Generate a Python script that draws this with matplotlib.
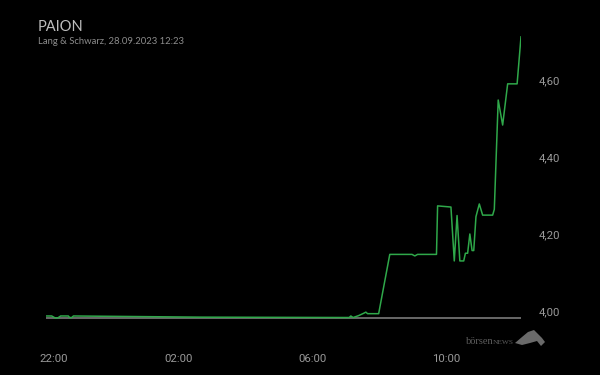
import matplotlib
matplotlib.use("Agg")
import matplotlib.pyplot as plt
import matplotlib.dates as mdates
import matplotlib.transforms as mtransforms
from matplotlib.patches import Polygon
import pandas as pd

# Kursdaten (Lang & Schwarz)
times = ["2023-09-27 22:02", "2023-09-27 22:11", "2023-09-27 22:17", "2023-09-27 22:22",
         "2023-09-27 22:27", "2023-09-27 22:41", "2023-09-27 22:43", "2023-09-27 22:47",
         "2023-09-27 22:50", "2023-09-28 02:38", "2023-09-28 07:06", "2023-09-28 07:09",
         "2023-09-28 07:13", "2023-09-28 07:17", "2023-09-28 07:23", "2023-09-28 07:32",
         "2023-09-28 07:36", "2023-09-28 07:39", "2023-09-28 07:59", "2023-09-28 08:19",
         "2023-09-28 08:59", "2023-09-28 09:04", "2023-09-28 09:09", "2023-09-28 09:43",
         "2023-09-28 09:45", "2023-09-28 10:09", "2023-09-28 10:15", "2023-09-28 10:20",
         "2023-09-28 10:25", "2023-09-28 10:32", "2023-09-28 10:35", "2023-09-28 10:39",
         "2023-09-28 10:43", "2023-09-28 10:47", "2023-09-28 10:50", "2023-09-28 10:54",
         "2023-09-28 11:00", "2023-09-28 11:06", "2023-09-28 11:24", "2023-09-28 11:27",
         "2023-09-28 11:34", "2023-09-28 11:42", "2023-09-28 11:51", "2023-09-28 12:08",
         "2023-09-28 12:15"]
prices = [3.987, 3.987, 3.982, 3.982,
          3.987, 3.987, 3.983, 3.983,
          3.987, 3.984, 3.983, 3.987,
          3.983, 3.985, 3.988, 3.994,
          3.997, 3.993, 3.993, 4.147,
          4.147, 4.143, 4.147, 4.147,
          4.273, 4.270, 4.130, 4.248,
          4.130, 4.130, 4.150, 4.150,
          4.200, 4.157, 4.157, 4.245,
          4.278, 4.249, 4.249, 4.264,
          4.548, 4.483, 4.590, 4.590,
          4.712]
prev_close = 3.982
y_ticks = [4.00, 4.20, 4.40, 4.60]

t = pd.to_datetime(times)
t0 = pd.Timestamp("2023-09-27 22:00")

fig = plt.figure(figsize=(6, 3.75), dpi=100, facecolor="black")
ax = fig.add_axes([45.6 / 600, 45 / 375, (521 - 45.6) / 600, 295 / 375])
ax.set_facecolor("black")

# Vortageslinie + Kursverlauf
ax.plot([t0, t[-1]], [prev_close, prev_close], color="#7a7a7a", lw=1.2, zorder=1)
ax.plot(t, prices, color="#2fa84a", lw=1.1, zorder=2)

ax.set_xlim(t0, t[-1])
ax.set_ylim(3.9506, 4.7169)

for s in ax.spines.values():
    s.set_visible(False)

ax.yaxis.tick_right()
ax.set_yticks(y_ticks)
ax.yaxis.set_major_formatter(plt.FuncFormatter(lambda v, p: f"{v:.2f}".replace(".", ",")))
ax.xaxis.set_major_locator(mdates.HourLocator(byhour=[22, 2, 6, 10]))
ax.xaxis.set_major_formatter(mdates.DateFormatter("%H:%M"))
ax.tick_params(axis="both", length=0, colors="#999999", labelsize=8.2)
ax.tick_params(axis="y", pad=13)
ax.tick_params(axis="x", pad=17)
for lab in ax.get_xticklabels() + ax.get_yticklabels():
    lab.set_fontfamily("Roboto")

# erstes Label etwas nach rechts (wie im Original)
fig.canvas.draw()
xl = ax.get_xticklabels()
if xl:
    xl[0].set_transform(xl[0].get_transform() + mtransforms.ScaledTranslation(8 / 100, 0, fig.dpi_scale_trans))

# Titel
fig.text(38 / 600, 1 - 31 / 375, "PAION", color="#bdbdbd", fontsize=10.5, family="Lato")
fig.text(38 / 600, 1 - 44 / 375, "Lang & Schwarz, 28.09.2023 12:23", color="#8c8c8c",
         fontsize=6.8, family="Lato")

# Logo
fig.text(466 / 600, 1 - 344 / 375, "börsen", color="#5e5e5e", fontsize=7.5, family="Liberation Serif")
fig.text(492.5 / 600, 1 - 344 / 375, "NEWS", color="#5e5e5e", fontsize=5.3, family="Liberation Serif")
bull = [(515, 343), (522, 337), (528, 332), (534, 330), (538, 334), (542, 338),
        (545, 342), (541, 346), (537, 341), (530, 343), (522, 345)]
fig.patches.append(Polygon([(x / 600, 1 - y / 375) for x, y in bull], closed=True,
                           transform=fig.transFigure, facecolor="#6a6a6a", edgecolor="none"))

fig.savefig("out.png", dpi=100, facecolor="black")
